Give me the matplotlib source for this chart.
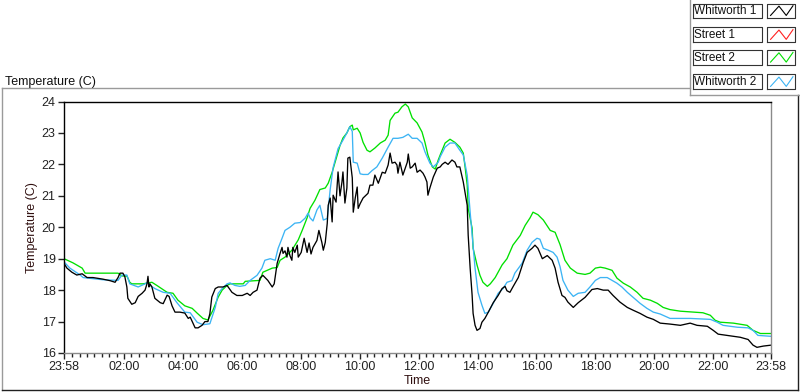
import matplotlib
matplotlib.use("Agg")
import matplotlib.pyplot as plt
from matplotlib.lines import Line2D
from matplotlib.ticker import FixedLocator

# minutes since 23:58 -> temperature (C)
whit1_min = [0, 6, 16, 26, 37, 47, 59, 79, 94, 104, 110, 114, 120, 124, 128, 130, 138, 145, 151, 159,
             165, 169, 171, 173, 175, 179, 185, 196, 202, 210, 214, 220, 226, 236, 246, 253, 257, 267, 273, 281,
             287, 293, 297, 301, 308, 314, 324, 332, 342, 352, 363, 373, 379, 385, 393, 399, 405, 415, 424, 428,
             434, 440, 444, 446, 450, 454, 456, 460, 464, 466, 470, 475, 477, 483, 489, 495, 499, 503, 507, 515,
             519, 525, 528, 532, 536, 538, 542, 546, 548, 554, 558, 562, 566, 568, 572, 576, 578, 582, 587, 589,
             593, 597, 599, 603, 609, 619, 623, 629, 633, 640, 648, 654, 660, 664, 668, 674, 678, 680, 684, 690,
             699, 701, 705, 709, 715, 719, 725, 731, 735, 739, 741, 745, 752, 760, 766, 770, 776, 782, 790, 796,
             800, 806, 813, 821, 823, 827, 831, 833, 837, 841, 847, 851, 857, 864, 874, 884, 892, 898, 902, 908,
             914, 925, 935, 943, 953, 959, 965, 974, 984, 994, 1000, 1006, 1014, 1020, 1026, 1037, 1047, 1061, 1075, 1086,
             1098, 1108, 1118, 1132, 1147, 1159, 1173, 1187, 1200, 1214, 1234, 1255, 1275, 1289, 1310, 1322, 1332, 1350, 1377, 1393,
             1403, 1411, 1424, 1440]
whit1_temp = [18.85, 18.7, 18.57, 18.48, 18.52, 18.4, 18.4, 18.35, 18.3, 18.25, 18.4, 18.54, 18.54, 18.42, 18.1, 17.74, 17.55, 17.6, 17.8, 17.9,
              18.0, 18.2, 18.44, 18.1, 18.2, 18.1, 17.74, 17.6, 17.57, 17.84, 17.8, 17.5, 17.3, 17.3, 17.27, 17.1, 17.14, 16.8, 16.8, 16.88,
              17.0, 17.0, 17.25, 17.78, 18.05, 18.1, 18.1, 18.15, 17.93, 17.83, 17.83, 17.9, 17.83, 17.93, 18.0, 18.38, 18.47, 18.31, 18.1, 18.2,
              18.85, 19.17, 19.36, 19.17, 19.25, 19.05, 19.36, 19.1, 18.95, 19.36, 19.2, 19.43, 19.05, 19.2, 19.65, 19.2, 19.5, 19.15, 19.36, 19.58,
              19.9, 19.52, 19.27, 19.52, 20.12, 20.7, 20.93, 20.17, 21.02, 20.8, 21.76, 21.0, 21.44, 21.76, 20.77, 21.25, 22.2, 22.23, 21.57, 20.48,
              20.93, 21.28, 20.6, 20.75, 20.93, 21.08, 21.34, 21.34, 21.66, 21.4, 21.75, 21.72, 21.98, 22.36, 22.04, 22.07, 21.98, 21.72, 22.07, 21.66,
              22.07, 22.33, 21.88, 21.92, 22.04, 21.75, 21.82, 21.72, 21.6, 21.44, 21.02, 21.25, 21.6, 21.88, 21.92, 22.0, 22.07, 22.0, 22.14, 22.07,
              21.92, 21.92, 21.44, 20.7, 19.75, 18.7, 17.84, 17.26, 16.88, 16.72, 16.78, 16.98, 17.1, 17.3, 17.6, 17.83, 18.05, 18.12, 17.98, 17.93,
              18.1, 18.4, 18.88, 19.2, 19.33, 19.43, 19.33, 19.0, 19.1, 18.95, 18.7, 18.25, 17.83, 17.77, 17.62, 17.45, 17.6, 17.77, 18.02, 18.05,
              18.0, 18.0, 17.83, 17.62, 17.45, 17.36, 17.26, 17.14, 17.07, 16.95, 16.92, 16.88, 16.95, 16.88, 16.85, 16.72, 16.6, 16.56, 16.5, 16.43,
              16.25, 16.18, 16.22, 16.25]

street1_min = []
street1_temp = []

street2_min = [0, 18, 37, 43, 73, 110, 118, 128, 134, 138, 161, 179, 189, 210, 222, 232, 246, 261, 271, 283,
               293, 303, 314, 322, 332, 338, 365, 369, 399, 405, 424, 434, 440, 450, 464, 477, 485, 495, 501, 511,
               521, 532, 538, 546, 552, 562, 568, 576, 582, 587, 589, 597, 603, 609, 617, 623, 633, 644, 654, 660,
               664, 674, 680, 688, 695, 701, 709, 719, 729, 735, 741, 750, 756, 762, 766, 776, 786, 796, 806, 813,
               817, 821, 823, 831, 833, 841, 847, 853, 862, 868, 878, 892, 902, 914, 929, 939, 949, 955, 965, 976,
               990, 1000, 1010, 1020, 1031, 1045, 1061, 1071, 1082, 1092, 1102, 1116, 1126, 1139, 1153, 1167, 1179, 1194, 1208, 1220,
               1234, 1255, 1281, 1301, 1316, 1326, 1336, 1363, 1391, 1403, 1418, 1440]
street2_temp = [19.0, 18.87, 18.7, 18.54, 18.54, 18.54, 18.45, 18.45, 18.25, 18.2, 18.2, 18.25, 18.15, 17.93, 17.9, 17.68, 17.5, 17.42, 17.27, 17.1,
                17.05, 17.35, 17.78, 18.0, 18.15, 18.2, 18.2, 18.28, 18.31, 18.57, 18.7, 18.72, 18.95, 19.05, 19.27, 19.6, 19.9, 20.3, 20.6, 20.86,
                21.2, 21.25, 21.4, 21.75, 22.07, 22.6, 22.84, 23.0, 23.2, 23.25, 23.1, 23.15, 23.0, 22.7, 22.45, 22.4, 22.52, 22.68, 22.77, 22.93,
                23.4, 23.63, 23.66, 23.83, 23.92, 23.83, 23.48, 23.32, 23.03, 22.7, 22.3, 21.92, 21.85, 22.14, 22.3, 22.68, 22.8, 22.7, 22.55, 22.36,
                21.88, 21.34, 20.6, 19.97, 19.33, 18.8, 18.47, 18.25, 18.12, 18.2, 18.4, 18.8, 19.0, 19.43, 19.74, 20.06, 20.3, 20.48, 20.4, 20.23,
                19.9, 19.84, 19.45, 18.95, 18.7, 18.54, 18.5, 18.54, 18.7, 18.73, 18.7, 18.63, 18.38, 18.22, 18.1, 17.93, 17.74, 17.68, 17.58, 17.45,
                17.38, 17.33, 17.3, 17.28, 17.2, 17.04, 16.98, 16.95, 16.88, 16.72, 16.62, 16.62]

whit2_min = [0, 12, 33, 39, 79, 110, 118, 128, 134, 151, 165, 171, 175, 185, 202, 216, 230, 246, 257, 271,
             283, 297, 308, 314, 322, 332, 338, 348, 358, 369, 379, 393, 403, 409, 420, 430, 436, 444, 450, 460,
             470, 481, 491, 497, 501, 507, 515, 521, 528, 536, 542, 548, 558, 568, 576, 582, 587, 589, 597, 603,
             609, 619, 627, 637, 648, 660, 670, 680, 690, 701, 709, 719, 729, 735, 745, 752, 762, 766, 776, 786,
             796, 806, 813, 821, 827, 833, 837, 843, 851, 857, 864, 874, 884, 894, 902, 912, 918, 933, 943, 953,
             963, 969, 976, 986, 996, 1004, 1010, 1016, 1026, 1037, 1047, 1061, 1071, 1082, 1092, 1106, 1116, 1126, 1136, 1147,
             1159, 1173, 1187, 1200, 1214, 1234, 1275, 1316, 1330, 1342, 1371, 1393, 1403, 1413, 1440]
whit2_temp = [18.9, 18.7, 18.48, 18.4, 18.33, 18.31, 18.48, 18.48, 18.2, 18.1, 18.2, 18.25, 18.15, 18.05, 17.93, 17.9, 17.6, 17.3, 17.28, 16.98,
              16.9, 16.93, 17.45, 17.9, 18.05, 18.2, 18.23, 18.15, 18.12, 18.15, 18.31, 18.47, 18.7, 18.95, 19.0, 18.95, 19.33, 19.65, 19.9, 20.0,
              20.13, 20.15, 20.29, 20.45, 20.3, 20.2, 20.55, 20.7, 20.23, 20.28, 21.2, 21.9, 22.5, 22.77, 23.0, 23.2, 23.05, 22.07, 22.04, 21.7,
              21.68, 21.68, 21.8, 21.92, 22.2, 22.55, 22.83, 22.83, 22.86, 22.96, 22.83, 22.83, 22.68, 22.4, 22.04, 21.92, 22.07, 22.24, 22.55, 22.68,
              22.68, 22.45, 22.3, 21.66, 20.48, 19.43, 18.7, 17.93, 17.52, 17.26, 17.3, 17.58, 17.9, 18.05, 18.25, 18.3, 18.54, 18.86, 19.27, 19.52,
              19.65, 19.62, 19.33, 19.27, 19.2, 19.05, 18.75, 18.31, 18.0, 17.8, 17.9, 17.93, 18.1, 18.31, 18.4, 18.4, 18.31, 18.22, 18.1, 17.93,
              17.77, 17.58, 17.42, 17.3, 17.24, 17.1, 17.1, 17.07, 16.98, 16.88, 16.82, 16.8, 16.72, 16.56, 16.53]

series_names = ["Whitworth 1", "Street 1", "Street 2", "Whitworth 2"]
series_colors = ["#000000", "#ff2020", "#00e000", "#3cb4f4"]

tick_labels = ["23:58", "02:00", "04:00", "06:00", "08:00", "10:00", "12:00",
               "14:00", "16:00", "18:00", "20:00", "22:00", "23:58"]
start_clock = 23 * 60 + 58

plt.rcParams['font.family'] = ['Liberation Sans', 'DejaVu Sans']

fig = plt.figure(figsize=(8, 3.92), dpi=100)
ax = fig.add_axes([0.080, 0.0995, 0.884, 0.6415])

data = [(whit1_min, whit1_temp), (street1_min, street1_temp),
        (street2_min, street2_temp), (whit2_min, whit2_temp)]
# draw in order so black ends on top
for i in [1, 2, 3, 0]:
    ax.plot(data[i][0], data[i][1], color=series_colors[i], lw=0.95)

ax.set_xlim(0, 1440)
ax.set_ylim(16, 24)

# tick positions from clock labels
major = []
for k, lab in enumerate(tick_labels):
    h, m = lab.split(":")
    off = (int(h) * 60 + int(m) - start_clock) % 1440
    if k == len(tick_labels) - 1:
        off = 1440
    major.append(off)
ax.set_xticks(major)
ax.set_xticklabels(tick_labels)
minor = [t for t in range(17, 1440, 15) if t not in major]
ax.xaxis.set_minor_locator(FixedLocator(minor))
ax.set_yticks(range(16, 25))

ax.tick_params(axis='both', which='major', direction='out', length=4, width=1,
               labelsize=9, colors='#222222', pad=2)
ax.tick_params(axis='x', which='minor', direction='out', length=3, width=1, color='#222222')

for s in ['left', 'top']:
    ax.spines[s].set_color('#000000')
    ax.spines[s].set_linewidth(1)
for s in ['right', 'bottom']:
    ax.spines[s].set_color('#8a8a8a')
    ax.spines[s].set_linewidth(1)

ax.set_xlabel("Time", fontsize=9, color='#301010', labelpad=1)
ax.set_ylabel("Temperature (C)", fontsize=9, color='#301010', labelpad=3)

# panel title and frame
fig.text(0.006, 0.792, "Temperature (C)", fontsize=9, color='#111111', ha='left', va='center')
frame = dict(transform=fig.transFigure, lw=1)
fig.add_artist(Line2D([0.002, 0.862], [0.775, 0.775], color='#9a9a9a', **frame))
fig.add_artist(Line2D([0.002, 0.002], [0.005, 0.775], color='#9a9a9a', **frame))
fig.add_artist(Line2D([0.002, 0.997], [0.006, 0.006], color='#202020', **frame))
fig.add_artist(Line2D([0.997, 0.997], [0.006, 0.758], color='#202020', **frame))
fig.add_artist(Line2D([0.862, 0.862], [0.758, 1.0], color='#9a9a9a', **frame))
fig.add_artist(Line2D([0.862, 1.0], [0.758, 0.758], color='#9a9a9a', **frame))

# legend rows: name box + icon box
row_y = [0.972, 0.911, 0.853, 0.791]
for name, col, yc in zip(series_names, series_colors, row_y):
    fig.text(0.868, yc, name, fontsize=8.5, ha='left', va='center', color='#111111')
    bx0, bx1 = 0.866, 0.953
    h = 0.019
    fig.add_artist(Line2D([bx0, bx1, bx1, bx0, bx0], [yc - h, yc - h, yc + h, yc + h, yc - h],
                          color='#333333', transform=fig.transFigure, lw=0.8))
    ix0, ix1 = 0.959, 0.994
    fig.add_artist(Line2D([ix0, ix1, ix1, ix0, ix0], [yc - h, yc - h, yc + h, yc + h, yc - h],
                          color='#333333', transform=fig.transFigure, lw=0.8))
    w = ix1 - ix0
    fig.add_artist(Line2D([ix0 + 0.12 * w, ix0 + 0.42 * w, ix0 + 0.68 * w, ix0 + 0.92 * w],
                          [yc - 0.6 * h, yc + 0.65 * h, yc - 0.6 * h, yc + 0.7 * h],
                          color=col, transform=fig.transFigure, lw=0.8))

fig.savefig("out.png", dpi=100)
